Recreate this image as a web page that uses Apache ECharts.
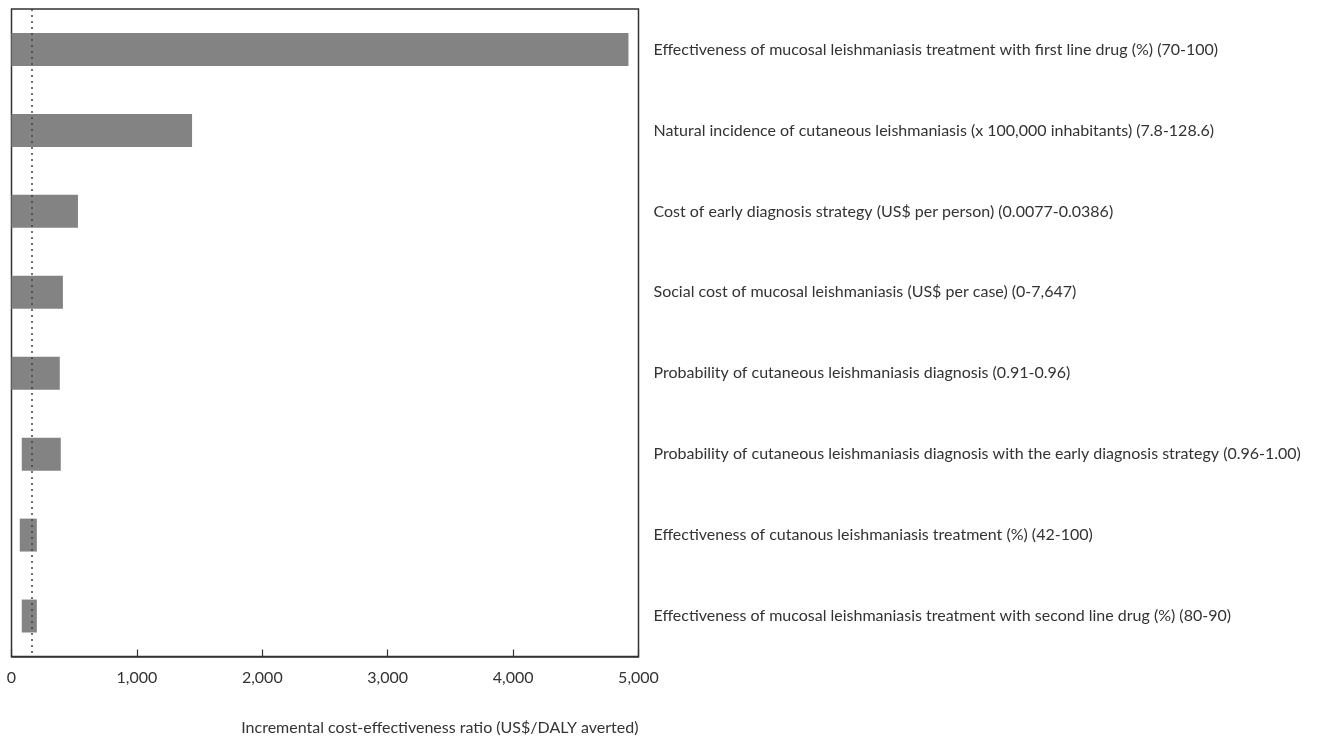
<!DOCTYPE html>
<html>
<head>
<meta charset="utf-8">
<title>ICER sensitivity analysis</title>
<script src="https://cdn.jsdelivr.net/npm/echarts@6/dist/echarts.min.js"></script>
<style>
  html, body { margin: 0; padding: 0; background: #fff; }
  #chart { width: 1324px; height: 738px; }
</style>
</head>
<body>
<div id="chart"></div>
<script>
// Parameters of the one-way sensitivity analysis, top to bottom
const parameters = [
  'Effectiveness of mucosal leishmaniasis treatment with first line drug (%) (70-100)',
  'Natural incidence of cutaneous leishmaniasis (x 100,000 inhabitants) (7.8-128.6)',
  'Cost of early diagnosis strategy (US$ per person) (0.0077-0.0386)',
  'Social cost of mucosal leishmaniasis (US$ per case) (0-7,647)',
  'Probability of cutaneous leishmaniasis diagnosis (0.91-0.96)',
  'Probability of cutaneous leishmaniasis diagnosis with the early diagnosis strategy (0.96-1.00)',
  'Effectiveness of cutanous leishmaniasis treatment (%) (42-100)',
  'Effectiveness of mucosal leishmaniasis treatment with second line drug (%) (80-90)'
];

// ICER range (US$/DALY averted) over each parameter's range
const icerLow  = [0,    0,    0,   0,   0,   82,  66,  82];
const icerHigh = [4920, 1440, 530, 410, 385, 393, 202, 202];

// Base-case ICER
const baseCaseIcer = 160;

// Axis ticks
const xTicks = [0, 1000, 2000, 3000, 4000, 5000];

const textFont = 'Lato';
const textSize = 16;
const chart = echarts.init(document.getElementById('chart'));

chart.setOption({
  animation: false,
  backgroundColor: '#ffffff',
  grid: {
    left: 11.5,
    right: 685.5,
    top: 9,
    bottom: 81.5,
    show: true,
    borderColor: '#333333',
    borderWidth: 1.5,
    backgroundColor: 'transparent'
  },
  xAxis: {
    type: 'value',
    min: xTicks[0],
    max: xTicks[xTicks.length - 1],
    interval: 1000,
    splitLine: { show: false },
    axisLine: { show: true, lineStyle: { color: '#333333', width: 1.5 } },
    axisTick: { show: true, inside: true, length: 7, lineStyle: { color: '#333333', width: 1.2 } },
    axisLabel: {
      margin: 13,
      color: '#333333',
      fontFamily: textFont,
      fontSize: textSize,
      formatter: v => v.toLocaleString('en-US')
    },
    name: 'Incremental cost-effectiveness ratio (US$/DALY averted)',
    nameLocation: 'end',
    nameGap: 0,
    nameTextStyle: {
      align: 'right',
      verticalAlign: 'top',
      color: '#333333',
      fontFamily: textFont,
      fontSize: textSize,
      padding: [63, 0, 0, 0]
    }
  },
  yAxis: {
    type: 'category',
    data: parameters,
    inverse: true,
    position: 'right',
    axisLine: { show: false },
    axisTick: { show: false },
    splitLine: { show: false },
    axisLabel: {
      align: 'left',
      margin: 15,
      color: '#333333',
      fontFamily: textFont,
      fontSize: textSize
    }
  },
  series: [
    {
      name: 'low',
      type: 'bar',
      stack: 'range',
      data: icerLow,
      itemStyle: { color: 'transparent' },
      barWidth: '40.7%',
      silent: true
    },
    {
      name: 'range',
      type: 'bar',
      stack: 'range',
      data: icerHigh.map((h, i) => h - icerLow[i]),
      itemStyle: { color: '#838383' },
      barWidth: '40.7%',
      markLine: {
        silent: true,
        symbol: 'none',
        label: { show: false },
        lineStyle: { color: '#444444', type: [2, 4], width: 1.5 },
        data: [{ xAxis: baseCaseIcer }]
      }
    }
  ]
});
</script>
</body>
</html>
